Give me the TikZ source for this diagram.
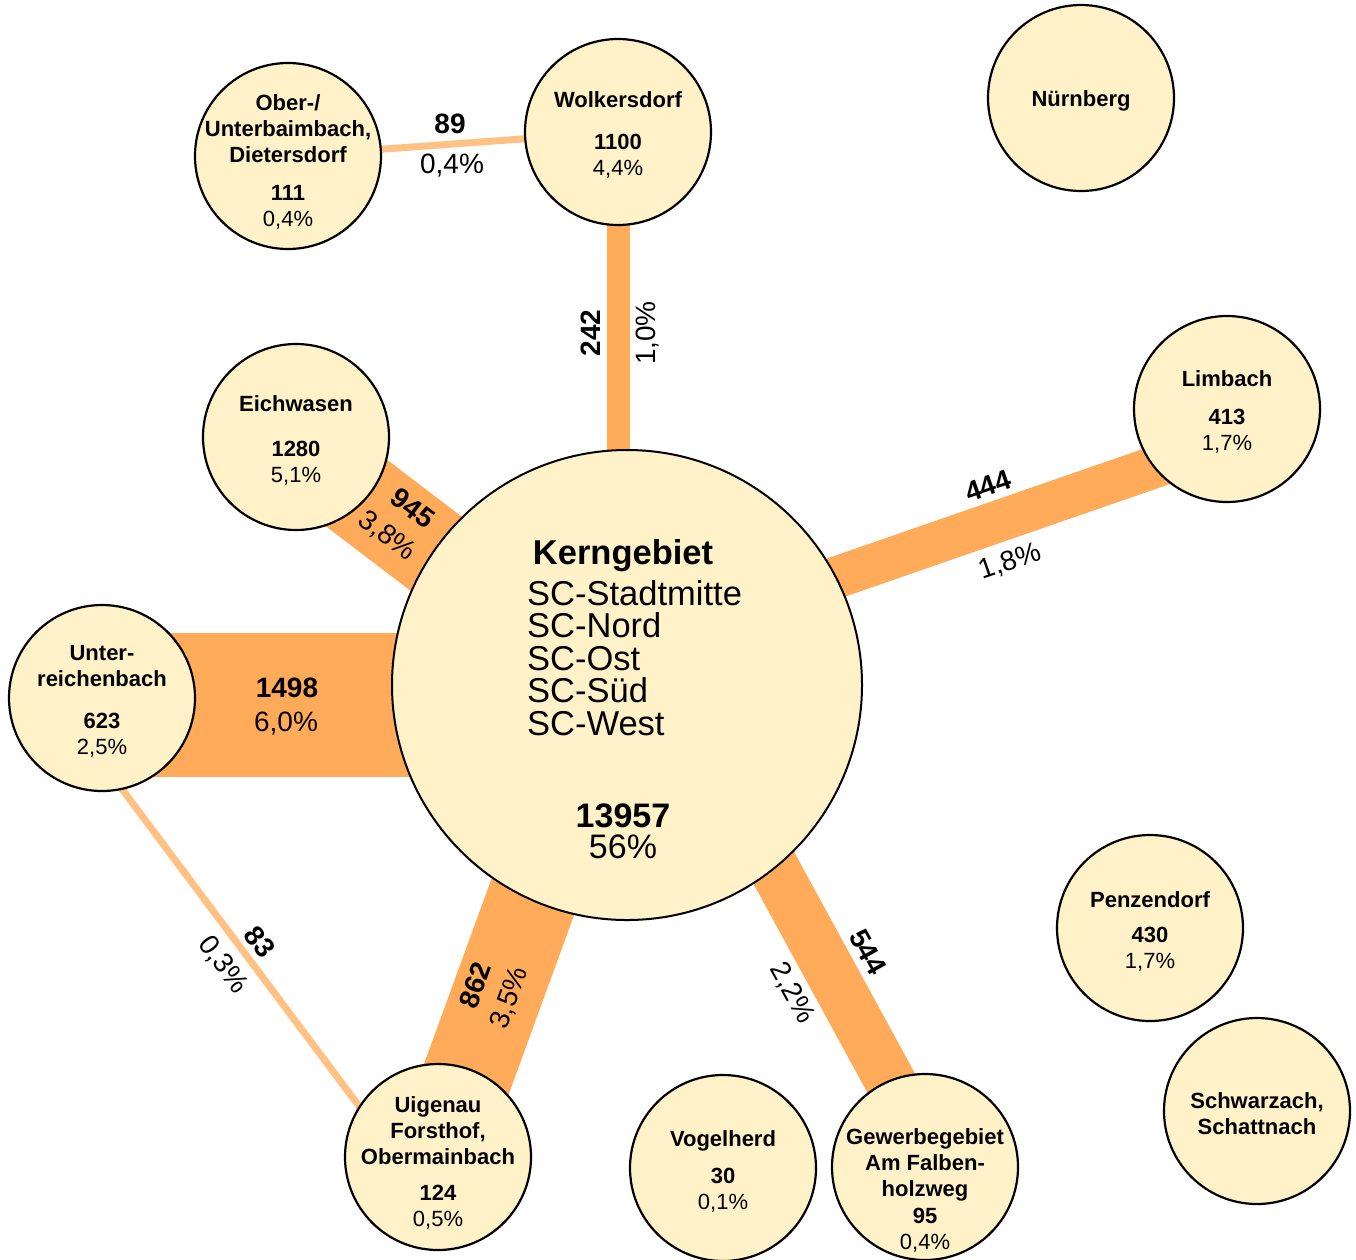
\documentclass[tikz,border=0pt]{standalone}
\usepackage{fontspec}
\setmainfont{Liberation Sans}
\usetikzlibrary{calc,backgrounds}

\definecolor{placefill}{HTML}{FFF2C8}
\definecolor{flow}{HTML}{FFAB5A}
\definecolor{flowthin}{HTML}{FFC184}

\tikzset{
  place/.style={circle,draw=black,line width=2.2pt,fill=placefill,
    minimum size=186pt,inner sep=0pt},
  placetext/.style={align=center,inner sep=0pt,yshift=-3pt,
    font=\bfseries\fontsize{22}{26}\selectfont},
  flowband/.style={draw=flow,line cap=butt},
  flowline/.style={draw=flowthin,line width=7pt},
  flownum/.style={font=\bfseries\fontsize{28}{30}\selectfont,inner sep=0pt},
  flowpct/.style={font=\fontsize{28}{30}\selectfont,inner sep=0pt},
}

\begin{document}
\begin{tikzpicture}[x=1pt,y=-1pt]
\useasboundingbox (0,0) rectangle (1356,1259);

% centre
\node[place,minimum size=470pt,line width=2pt] (kern) at (627,685) {};
\node[font=\bfseries\fontsize{34.5}{36}\selectfont] (kerntitle) at (623,556) {Kerngebiet};
\node[anchor=west,align=left,inner sep=0pt,font=\fontsize{34.5}{32.5}\selectfont] (kernparts) at (527,658)
  {SC-Stadtmitte\\SC-Nord\\SC-Ost\\SC-Süd\\SC-West};
\node[align=center,inner sep=0pt,font=\fontsize{34}{31}\selectfont] (kernsum) at (623,831)
  {\textbf{13957}\\56\%};

% places
\node[place,label={[placetext,yshift=-3pt]center:Ober-/\\Unterbaimbach,\\Dietersdorf\\[12pt]111\\{\mdseries 0,4\%}}] (ober) at (288,156) {};
\node[place,label={[placetext]center:Wolkersdorf\\[16pt]1100\\{\mdseries 4,4\%}}] (wolk) at (618,132) {};
\node[place,label={[placetext]center:Nürnberg}] (nbg) at (1081,98) {};
\node[place,label={[placetext]center:Eichwasen\\[19pt]1280\\{\mdseries 5,1\%}}] (eich) at (296,437) {};
\node[place,label={[placetext]center:Limbach\\[12pt]413\\{\mdseries 1,7\%}}] (limbach) at (1227,409) {};
\node[place,label={[placetext]center:Unter-\\reichenbach\\[16pt]623\\{\mdseries 2,5\%}}] (unterr) at (102,698) {};
\node[place,label={[placetext,yshift=-3pt]center:Uigenau\\Forsthof,\\Obermainbach\\[10pt]124\\{\mdseries 0,5\%}}] (uigenau) at (438,1157) {};
\node[place,label={[placetext]center:Vogelherd\\[11pt]30\\{\mdseries 0,1\%}}] (vogel) at (723,1168) {};
\node[place,label={[placetext,yshift=-20pt]center:Gewerbegebiet\\Am Falben-\\holzweg\\[1pt]95\\{\mdseries 0,4\%}}] (gewerbe) at (925,1167) {};
\node[place,label={[placetext]center:Penzendorf\\[9pt]430\\{\mdseries 1,7\%}}] (penzen) at (1150,928) {};
\node[place,label={[placetext]center:Schwarzach,\\Schattnach}] (schwarz) at (1257,1111) {};

% flows
\begin{scope}[on background layer]
\draw[flowline] (ober.center) -- (wolk.center);
\draw[flowband,line width=23pt] (wolk.center) -- (wolk.center |- kern.center);
\draw[flowband,line width=42pt] ($(kern)+(0,-35)$) -- ($(limbach)+(0,33)$);
\draw[flowband,line width=90pt] ($(eich)+(0,10)$) -- ($(kern)+(0,14)$);
\draw[flowband,line width=144pt] ($(unterr)+(0,7)$) -- ($(kern)+(0,20)$);
\draw[flowband,line width=90pt] ($(kern)+(-17,0)$) -- (uigenau.center);
\draw[flowband,line width=51pt] ($(kern)+(47,0)$) -- ($(gewerbe)+(12,0)$);
\draw[flowline] ($(unterr)+(-48,0)$) -- ($(uigenau)+(-41,0)$);
\end{scope}

% flow labels
\node[flownum] (n89) at (450,124) {89};
\node[flowpct] (p89) at (452,166) {0,4\%};
\node[flownum,rotate=90] (n242) at (591,333) {242};
\node[flowpct,rotate=90] (p242) at (648,333) {1,0\%};
\node[flownum,rotate=-37] (n945) at (413,508) {945};
\node[flowpct,rotate=-37] (p945) at (387,536) {3,8\%};
\node[flownum,rotate=19] (n444) at (988,486) {444};
\node[flowpct,rotate=19] (p444) at (1010,562) {1,8\%};
\node[flownum] (n1498) at (287,688) {1498};
\node[flowpct] (p1498) at (286,723) {6,0\%};
\node[flownum,rotate=70] (n862) at (475,985) {862};
\node[flowpct,rotate=70] (p862) at (510,998) {3,5\%};
\node[flownum,rotate=-53] (n83) at (260,942) {83};
\node[flowpct,rotate=-53] (p83) at (223,965) {0,3\%};
\node[flownum,rotate=-61] (n544) at (868,952) {544};
\node[flowpct,rotate=-61] (p544) at (792,993) {2,2\%};

\end{tikzpicture}
\end{document}
